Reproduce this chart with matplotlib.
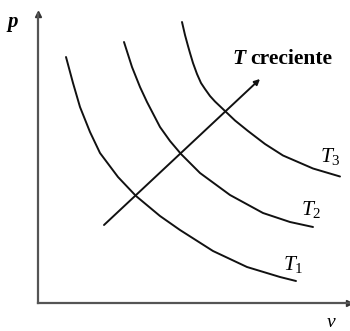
import matplotlib
matplotlib.use('Agg')
import matplotlib.pyplot as plt

# isotherms (v, p in arbitrary units)
t1_v = [28, 35, 42, 52, 62, 80, 98, 122, 142, 175, 209, 242, 258]
t1_p = [246, 220, 196, 171, 150, 126, 107, 87, 73, 52, 36, 26, 22]
t2_v = [86, 94, 102, 109, 122, 132, 143, 162, 192, 225, 252, 275]
t2_p = [261, 236, 216, 201, 176, 162, 149, 130, 108, 90, 81, 76]
t3_v = [144, 147, 150, 152, 155, 159, 163, 167, 172, 177, 187, 197, 210,
        227, 245, 275, 302]
t3_p = [281, 268, 257, 250, 240, 229, 220, 214, 207, 201.5, 192, 182.5, 172,
        159, 147.5, 134.5, 126.5]
curves = [(t1_v, t1_p), (t2_v, t2_p), (t3_v, t3_p)]
labels = ['$T_1$', '$T_2$', '$T_3$']
label_pos = [(245, 33), (263, 88), (282, 141)]

# "T creciente" arrow
arrow_start = (66, 78)
arrow_end = (222, 224)

plt.rcParams['font.family'] = 'Liberation Serif'
plt.rcParams['mathtext.fontset'] = 'custom'
plt.rcParams['mathtext.it'] = 'Liberation Serif:italic'
plt.rcParams['mathtext.rm'] = 'Liberation Serif'

fig = plt.figure(figsize=(3.5, 3.31), dpi=100)
ax = fig.add_axes([38 / 350, 28 / 331, 311 / 350, 289 / 331])
ax.set_xlim(0, 311)
ax.set_ylim(0, 289)
ax.set_xticks([])
ax.set_yticks([])
for s in ['top', 'right']:
    ax.spines[s].set_visible(False)
for s in ['left', 'bottom']:
    ax.spines[s].set_color('#555555')
    ax.spines[s].set_linewidth(1.6)

# axis arrows
ax.plot(0, 289, marker='^', color='#333333', markersize=4, clip_on=False)
ax.plot(311, 0, marker='>', color='#333333', markersize=4, clip_on=False)

for (v, p), lab, pos in zip(curves, labels, label_pos):
    ax.plot(v, p, color='#111111', lw=1.4, solid_capstyle='round',
            solid_joinstyle='round')
    ax.text(pos[0], pos[1], lab, fontsize=15.5, va='baseline', ha='left')

ax.annotate('', xy=arrow_end, xytext=arrow_start,
            arrowprops=dict(arrowstyle='-|>', color='#111111', lw=1.4,
                            mutation_scale=8, shrinkA=0, shrinkB=0))

ax.text(194, 239, 'T', fontsize=15.5, fontweight='bold', fontstyle='italic',
        va='baseline', ha='left')
ax.text(212, 239, 'creciente', fontsize=15.5, fontweight='bold',
        va='baseline', ha='left')

ax.text(-31, 276, 'p', fontsize=15, fontweight='bold', fontstyle='italic',
        va='baseline', ha='left', clip_on=False)
ax.text(289, -24, 'v', fontsize=14, fontstyle='italic',
        va='baseline', ha='left', clip_on=False)

fig.savefig('out.png', dpi=100)
